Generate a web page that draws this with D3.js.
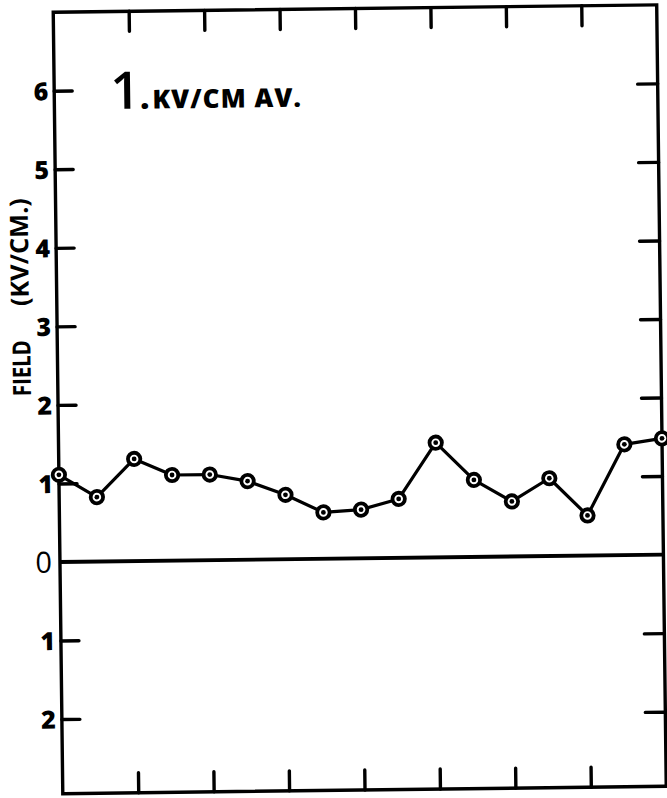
<!DOCTYPE html>
<html>
<head>
<meta charset="utf-8">
<script src="https://cdn.jsdelivr.net/npm/d3@7/dist/d3.min.js"></script>
<style>
  html, body { margin: 0; padding: 0; background: #fff; }
  svg { display: block; }
  text { font-family: "Open Sans", "DejaVu Sans", sans-serif; fill: #000; }
</style>
</head>
<body>
<svg id="chart" width="667" height="798"></svg>
<script>
// Reading index along the record (one every half division)
const readings = [0, 1, 2, 3, 4, 5, 6, 7, 8, 9, 10, 11, 12, 13, 14, 15, 16];
// Field strength at each reading, KV/CM
const fieldValues = [1.11, 0.82, 1.30, 1.09, 1.09, 1.00, 0.82, 0.59, 0.62,
                     0.75, 1.46, 0.98, 0.70, 0.99, 0.51, 1.41, 1.48];
// Field axis ticks (below zero are labelled by magnitude)
const yTicks = [-2, -1, 1, 2, 3, 4, 5, 6];
const yTickLabels = ["2", "1", "1", "2", "3", "4", "5", "6"];
const zeroLabel = "0";
// Division marks along top and bottom edges
const xTicks = [2, 4, 6, 8, 10, 12, 14];
const averageValue = "1";
const averageUnit = "KV/CM AV.";
const axisTitle = ["FIELD", "(KV/CM.)"];

const plot = { left: 58, right: 661.5, top: 8.5, bottom: 790 };

const svg = d3.select("#chart");
// the whole sheet sits slightly askew
const g = svg.append("g").attr("transform", "rotate(-0.7 360 400)");

const x = d3.scaleLinear().domain([0, 16]).range([plot.left, plot.right]);
const y = d3.scaleLinear().domain([-2.95, 7]).range([plot.bottom, plot.top]);

const ink = "#000";
const tickStyle = sel => sel.selectAll(".tick line")
  .attr("stroke", ink).attr("stroke-width", 3.4).attr("stroke-linecap", "round");

// frame
g.append("rect")
  .attr("x", plot.left).attr("y", plot.top)
  .attr("width", plot.right - plot.left).attr("height", plot.bottom - plot.top)
  .attr("fill", "none").attr("stroke", ink).attr("stroke-width", 3.4);

// zero line
g.append("line")
  .attr("x1", plot.left).attr("x2", plot.right)
  .attr("y1", y(0)).attr("y2", y(0))
  .attr("stroke", ink).attr("stroke-width", 3.8);

// left axis ticks + labels
const leftAxis = d3.axisRight(y).tickValues(yTicks).tickSize(18)
  .tickFormat((d, i) => yTickLabels[i]);
const la = g.append("g").attr("transform", `translate(${plot.left},0)`).call(leftAxis);
la.select(".domain").remove();
tickStyle(la);
la.selectAll(".tick text")
  .attr("x", -6).attr("dy", "0.36em").attr("text-anchor", "end")
  .attr("font-family", null).attr("font-size", null)
  .style("font-size", "25px").style("font-weight", 800);

// zero label
g.append("text")
  .attr("x", plot.left - 8).attr("y", y(0)).attr("dy", "0.36em")
  .attr("text-anchor", "end")
  .style("font-size", "29px").style("font-weight", 500)
  .text(zeroLabel);

// right axis ticks
const rightAxis = d3.axisLeft(y).tickValues(yTicks).tickSize(20).tickFormat("");
const ra = g.append("g").attr("transform", `translate(${plot.right},0)`).call(rightAxis);
ra.select(".domain").remove();
tickStyle(ra);

// top and bottom division marks
const topAxis = d3.axisBottom(x).tickValues(xTicks).tickSize(20).tickFormat("");
const ta = g.append("g").attr("transform", `translate(0,${plot.top})`).call(topAxis);
ta.select(".domain").remove();
tickStyle(ta);

const bottomAxis = d3.axisTop(x).tickValues(xTicks).tickSize(20).tickFormat("");
const ba = g.append("g").attr("transform", `translate(0,${plot.bottom})`).call(bottomAxis);
ba.select(".domain").remove();
tickStyle(ba);

// field trace
const series = readings.map((r, i) => ({ r, v: fieldValues[i] }));
g.append("path")
  .datum(series)
  .attr("fill", "none").attr("stroke", ink).attr("stroke-width", 3.2)
  .attr("stroke-linejoin", "round")
  .attr("d", d3.line().x(d => x(d.r)).y(d => y(d.v)));

// ringed markers
const marks = g.selectAll(".mark").data(series).enter().append("g").attr("class", "mark")
  .attr("transform", d => `translate(${x(d.r)},${y(d.v)})`);
marks.append("circle").attr("r", 6.2).attr("fill", "#fff").attr("stroke", ink).attr("stroke-width", 3.8);
marks.append("circle").attr("r", 2.4).attr("fill", ink);

// average note: large value, a heavy point, then the unit text
const note = g.append("text").attr("x", 114).attr("y", 106);
note.append("tspan")
  .style("font-size", "52px").style("font-weight", 600)
  .text(averageValue);
note.append("tspan")
  .style("font-size", "32px").style("font-weight", 800)
  .text(".");
note.append("tspan").attr("dx", 3)
  .style("font-size", "26px").style("font-weight", 800).style("letter-spacing", "1px")
  .text(averageUnit);

// axis title, rotated
g.append("text")
  .attr("transform", "translate(31,392) rotate(-90)")
  .attr("textLength", 56).attr("lengthAdjust", "spacingAndGlyphs")
  .style("font-size", "25px").style("font-weight", 700)
  .text(axisTitle[0]);
g.append("text")
  .attr("transform", "translate(30,302) rotate(-90)")
  .attr("textLength", 108).attr("lengthAdjust", "spacingAndGlyphs")
  .style("font-size", "25px").style("font-weight", 700)
  .text(axisTitle[1]);
</script>
</body>
</html>
